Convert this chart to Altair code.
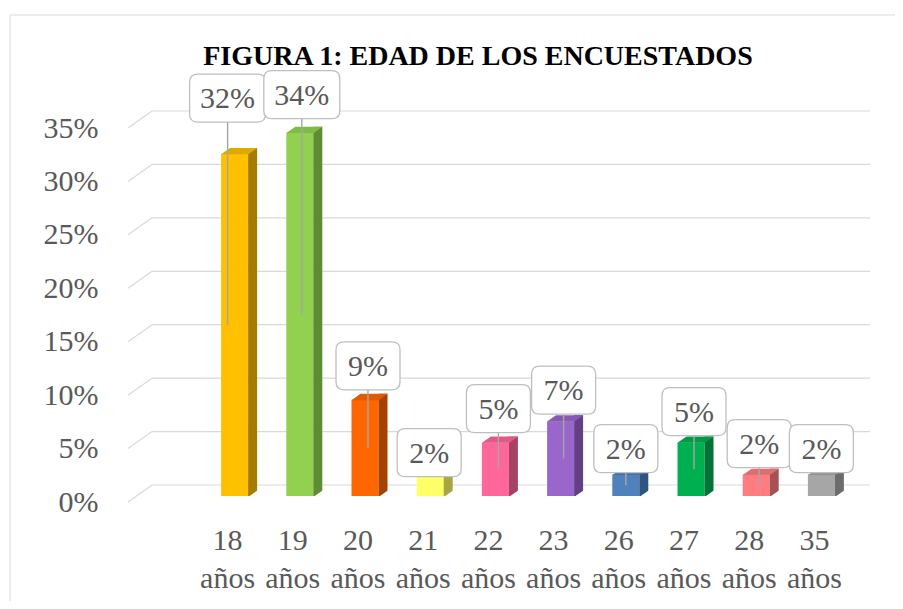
import altair as alt
import pandas as pd

# ---- data ----
ages = ["18 años", "19 años", "20 años", "21 años", "22 años",
        "23 años", "26 años", "27 años", "28 años", "35 años"]
pct = [32, 34, 9, 2, 5, 7, 2, 5, 2, 2]
ticks = [0, 5, 10, 15, 20, 25, 30, 35]

front_colors = ["#FFC000", "#92D050", "#FF6600", "#FFFF66", "#FF6699",
                "#9966CC", "#4F81BD", "#00B050", "#FF7C80", "#A6A6A6"]
side_colors = ["#A67C00", "#5E8C32", "#A64200", "#A6A642", "#A64263",
               "#633F85", "#2F5480", "#007335", "#A65153", "#6C6C6C"]
top_colors = ["#E0A900", "#80BC45", "#E05A00", "#E0E05A", "#E05A86",
              "#8659B3", "#4571A6", "#009B46", "#E06D70", "#929292"]

title_text = "FIGURA 1: EDAD DE LOS ENCUESTADOS"
FONT = "Liberation Serif, Times New Roman, serif"
TXT = "#595959"
GRID = "#D9D9D9"

df = pd.DataFrame({"age": ages, "pct": pct})
tick_df = pd.DataFrame({"t": ticks})

x_scale = alt.Scale(range=[67, 719], paddingInner=0, paddingOuter=0)
y_scale = alt.Scale(domain=[0, 35], nice=False, zero=True)

x_axis = alt.Axis(labelExpr="split(datum.label, ' ')", labelFont=FONT,
                  labelFontSize=30, labelColor=TXT, labelPadding=23,
                  labelLineHeight=38, labelBaseline="top", labelAlign="center",
                  ticks=False, tickSize=0, domain=False, grid=False,
                  title=None, labelOverlap=False, labelAngle=0)
y_axis = alt.Axis(values=ticks, labelExpr="datum.value + '%'", labelFont=FONT,
                  labelFontSize=30, labelColor=TXT, labelPadding=30,
                  ticks=False, tickSize=0, domain=False, grid=False,
                  title=None, labelOverlap=False, labelBaseline="middle")

x_enc = alt.X("age:N", sort=ages, scale=x_scale, axis=x_axis)
y_enc = alt.Y("pct:Q", scale=y_scale, axis=y_axis)

base = alt.Chart(df)
tbase = alt.Chart(tick_df)

# chart frame (left and top edges visible)
frame_left = tbase.transform_filter("datum.t == 0").mark_rule(color=GRID, strokeWidth=1).encode(
    x=alt.value(-118), y=alt.value(-113), y2=alt.value(473))
frame_top = tbase.transform_filter("datum.t == 0").mark_rule(color=GRID, strokeWidth=1).encode(
    x=alt.value(-118), x2=alt.value(767), y=alt.value(-113))

# perspective gridlines: back wall + floor diagonal
grid_h = tbase.mark_rule(color=GRID, strokeWidth=1.2, yOffset=-17).encode(
    x=alt.value(24), x2=alt.value(742),
    y=alt.Y("t:Q", scale=y_scale, axis=y_axis))
grid_d = tbase.mark_rule(color=GRID, strokeWidth=1.2, y2Offset=-17).encode(
    x=alt.value(0), x2=alt.value(24),
    y=alt.Y("t:Q", scale=y_scale, axis=y_axis), y2=alt.Y2("t:Q"))

front = base.mark_bar(size=27, xOffset=7, yOffset=-6, y2Offset=-6).encode(
    x=x_enc, y=y_enc, y2=alt.datum(0),
    color=alt.Color("age:N", scale=alt.Scale(domain=ages, range=front_colors), legend=None))
side = base.mark_bar(size=9, xOffset=25, yOffset=-12, y2Offset=-6).encode(
    x=x_enc, y=y_enc, y2=alt.datum(0),
    color=alt.Color("age:N", scale=alt.Scale(domain=ages, range=side_colors), legend=None))
top = base.mark_point(shape="M0,0.3 L27.3,0.3 L36.3,-6 L9,-6 Z", size=4, filled=True,
                      opacity=1, strokeWidth=0, xOffset=-6.5, yOffset=-6).encode(
    x=x_enc, y=y_enc,
    color=alt.Color("age:N", scale=alt.Scale(domain=ages, range=top_colors), legend=None))
cut = base.mark_point(shape="M0,1 L10,1 L10,-6 Z", size=4, filled=True, opacity=1,
                      strokeWidth=0, color="white", xOffset=20.5, yOffset=-6).encode(
    x=x_enc, y=alt.datum(0))


def box_path(w, h=48, r=8):
    hw, hh = w / 2, h / 2
    return (f"M{-hw + r},{-hh} L{hw - r},{-hh} Q{hw},{-hh} {hw},{-hh + r} "
            f"L{hw},{hh - r} Q{hw},{hh} {hw - r},{hh} L{-hw + r},{hh} "
            f"Q{-hw},{hh} {-hw},{hh - r} L{-hw},{-hh + r} Q{-hw},{-hh} {-hw + r},{-hh} Z")


# callout placement (pixel offsets of each label box from its bar top)
groups = [
    (["18 años"], 0, -62, True),
    (["19 años"], 9, -44, True),
    (["20 años", "22 años"], 10, -40, True),
    (["21 años"], 6, -28, False),
    (["23 años", "27 años", "28 años"], 10, -37, True),
    (["26 años"], 7, -32, True),
    (["35 años"], 7, -32, False),
]

leaders = []
labels = []
for members, dx, dy, lead in groups:
    sub = base.transform_filter(alt.FieldOneOfPredicate(field="age", oneOf=members))
    w = 76 if max(pct[ages.index(m)] for m in members) >= 10 else 64
    if lead:
        leaders.append(sub.transform_calculate(half="datum.pct / 2").mark_rule(
            color="#A6A6A6", strokeWidth=1.4, xOffset=dx, yOffset=dy + 24, y2Offset=-6).encode(
            x=x_enc, y=y_enc, y2=alt.Y2("half:Q")))
    labels.append(sub.mark_point(shape=box_path(w), size=4, filled=False, fill="white",
                                 fillOpacity=1, opacity=1, stroke="#BFBFBF", strokeWidth=1.3,
                                 xOffset=dx, yOffset=dy).encode(x=x_enc, y=y_enc))
    labels.append(sub.transform_calculate(lbl="datum.pct + '%'").mark_text(
        font=FONT, fontSize=30, color=TXT, baseline="middle", align="center",
        xOffset=dx, yOffset=dy + 1).encode(x=x_enc, y=y_enc, text="lbl:N"))

chart = alt.layer(frame_left, frame_top, grid_h, grid_d, front, side, top, cut,
                  *leaders, *labels).resolve_scale(color="independent").properties(
    width=742, height=374,
    autosize=alt.AutoSizeParams(type="none"),
    padding={"left": 120, "top": 120, "right": 25, "bottom": 99},
    title=alt.Title(title_text, font=FONT, fontSize=28, fontWeight="bold",
                    color="#000000", anchor="middle", frame="group", dx=-21,
                    offset=0, dy=84, baseline="bottom"),
    background="white",
).configure_view(stroke=None).configure_text(font=FONT)

chart.save("out.html", embed_options={"renderer": "svg", "actions": False})
